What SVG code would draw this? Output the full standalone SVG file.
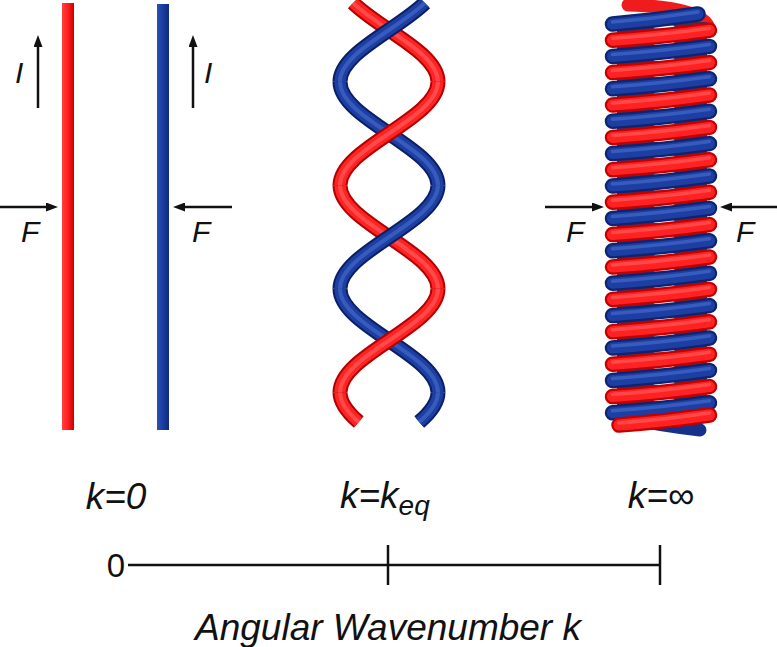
<svg xmlns="http://www.w3.org/2000/svg" xmlns:xlink="http://www.w3.org/1999/xlink" width="777" height="647" viewBox="0 0 777 647">
<style>
.txt{font-family:"Liberation Sans",Arial,sans-serif;font-style:italic;fill:#111}
.up{font-style:normal}
.ln{stroke:#111;stroke-width:2.5;fill:none}
.arr{stroke:#111;stroke-width:2.5;fill:none;marker-end:url(#ah)}
.ro{stroke:#b50000;stroke-width:15;fill:none}
.rc{stroke:#ff2323;stroke-width:11;fill:none}
.rh{stroke:#ff6b6b;stroke-width:4;fill:none;opacity:.55}
.bo{stroke:#0b1f66;stroke-width:15;fill:none}
.bc{stroke:#1d3fa3;stroke-width:11;fill:none}
.bh{stroke:#4d72d2;stroke-width:4;fill:none;opacity:.55}
.cro{stroke:#c20000;stroke-width:15.5;fill:none;stroke-linecap:round}
.crc{stroke:#ff2222;stroke-width:11;fill:none;stroke-linecap:round}
.crh{stroke:#ff6a6a;stroke-width:3.5;fill:none;stroke-linecap:round;opacity:.55}
.cbo{stroke:#0d2470;stroke-width:15.5;fill:none;stroke-linecap:round}
.cbc{stroke:#1d3fa3;stroke-width:11;fill:none;stroke-linecap:round}
.cbh{stroke:#4f74d4;stroke-width:3.5;fill:none;stroke-linecap:round;opacity:.55}
.backr{stroke:#ee1c1c;stroke-width:13;fill:none;stroke-linecap:round}
.backb{stroke:#16318a;stroke-width:13;fill:none;stroke-linecap:round}
</style>
<defs>
<marker id="ah" markerUnits="userSpaceOnUse" markerWidth="12" markerHeight="9" refX="6" refY="4.5" orient="auto">
<path d="M0,0 L12,4.5 L0,9 z" fill="#111"/>
</marker>
<linearGradient id="gRed" x1="0" x2="1" y1="0" y2="0">
<stop offset="0" stop-color="#ff4040"/><stop offset=".5" stop-color="#ff1e1e"/><stop offset="1" stop-color="#c80000"/>
</linearGradient>
<linearGradient id="gBlue" x1="0" x2="1" y1="0" y2="0">
<stop offset="0" stop-color="#2c52b8"/><stop offset=".5" stop-color="#1b3c9f"/><stop offset="1" stop-color="#0f2a7c"/>
</linearGradient>
<path id="hr0" d="M353.17,2.95 C379.9,29.36 438,52.8 438,81.75"/>
<path id="hr1" d="M438,81.75 C438,119.35 340,147.65 340,185.25"/>
<path id="hr2" d="M340,185.25 C340,222.85 438,251.15 438,288.75"/>
<path id="hr3" d="M438,288.75 C438,326.35 340,354.65 340,392.25"/>
<path id="hr4" d="M340,392.25 C340,402.78 347.68,412.58 358.75,422.06"/>
<path id="hb0" d="M424.83,2.95 C398.1,29.36 340,52.8 340,81.75"/>
<path id="hb1" d="M340,81.75 C340,119.35 438,147.65 438,185.25"/>
<path id="hb2" d="M438,185.25 C438,222.85 340,251.15 340,288.75"/>
<path id="hb3" d="M340,288.75 C340,326.35 438,354.65 438,392.25"/>
<path id="hb4" d="M438,392.25 C438,402.78 430.32,412.58 419.25,422.06"/>
<path id="fb" d="M612.5,5 Q662,1.5 709.5,-5"/>
<g id="bandR"><use href="#fb" class="cro"/><use href="#fb" class="crc"/><use href="#fb" y="-2" class="crh"/></g>
<g id="bandB"><use href="#fb" class="cbo"/><use href="#fb" class="cbc"/><use href="#fb" y="-2" class="cbh"/></g>
</defs>
<rect width="777" height="647" fill="#ffffff"/>

<g id="straight-wires">
<rect id="wire-red" x="62" y="3" width="12" height="427" fill="url(#gRed)"/>
<rect id="wire-blue" x="157" y="4" width="12" height="426" fill="url(#gBlue)"/>
</g>

<g id="twisted-helix">
<g id="helix-back">
<use href="#hr0" class="ro"/><use href="#hr0" class="rc"/><use href="#hr0" class="rh"/>
<use href="#hb1" class="bo"/><use href="#hb1" class="bc"/><use href="#hb1" class="bh"/>
<use href="#hr2" class="ro"/><use href="#hr2" class="rc"/><use href="#hr2" class="rh"/>
<use href="#hb3" class="bo"/><use href="#hb3" class="bc"/><use href="#hb3" class="bh"/>
<use href="#hr4" class="ro"/><use href="#hr4" class="rc"/><use href="#hr4" class="rh"/>
</g>
<g id="helix-front">
<use href="#hb0" class="bo"/><use href="#hb0" class="bc"/><use href="#hb0" class="bh"/>
<use href="#hr1" class="ro"/><use href="#hr1" class="rc"/><use href="#hr1" class="rh"/>
<use href="#hb2" class="bo"/><use href="#hb2" class="bc"/><use href="#hb2" class="bh"/>
<use href="#hr3" class="ro"/><use href="#hr3" class="rc"/><use href="#hr3" class="rh"/>
<use href="#hb4" class="bo"/><use href="#hb4" class="bc"/><use href="#hb4" class="bh"/>
</g>
</g>

<g id="coil">
<g id="coil-back">
<path class="backr" d="M709,28 Q702,7 628,5"/>
<path class="backb" d="M700,430 Q662,426 626,418"/>
<rect x="617" y="22" width="90" height="396" fill="#5a2448"/>
<path d="M655,27.1h18M655,43.3h18M655,59.5h18M655,75.7h18M655,91.9h18M655,108.1h18M655,124.3h18M655,140.5h18M655,156.7h18M655,172.9h18M655,189.1h18M655,205.3h18M655,221.5h18M655,237.7h18M655,253.9h18M655,270.1h18M655,286.3h18M655,302.5h18M655,318.7h18M655,334.9h18M655,351.1h18M655,367.3h18M655,383.5h18M655,399.7h18M655,414h18" stroke="#ffffff" stroke-width="3" stroke-linecap="round" fill="none"/>
</g>
<g id="coil-front">
<g id="top-blue">
<path class="cbo" d="M612.5,24 Q655,20.5 698,14"/><path class="cbc" d="M612.5,24 Q655,20.5 698,14"/><path class="cbh" d="M612.5,22 Q655,18.5 698,12"/>
</g>
<use href="#bandR" y="35.2"/><use href="#bandB" y="51.4"/><use href="#bandR" y="67.6"/><use href="#bandB" y="83.8"/>
<use href="#bandR" y="100"/><use href="#bandB" y="116.2"/><use href="#bandR" y="132.4"/><use href="#bandB" y="148.6"/>
<use href="#bandR" y="164.8"/><use href="#bandB" y="181"/><use href="#bandR" y="197.2"/><use href="#bandB" y="213.4"/>
<use href="#bandR" y="229.6"/><use href="#bandB" y="245.8"/><use href="#bandR" y="262"/><use href="#bandB" y="278.2"/>
<use href="#bandR" y="294.4"/><use href="#bandB" y="310.6"/><use href="#bandR" y="326.8"/><use href="#bandB" y="343"/>
<use href="#bandR" y="359.2"/><use href="#bandB" y="375.4"/><use href="#bandR" y="391.6"/><use href="#bandB" y="407.8"/>
<g id="bottom-red">
<path class="cro" d="M619,425 Q665,421.5 709.5,415"/><path class="crc" d="M619,425 Q665,421.5 709.5,415"/><path class="crh" d="M619,423 Q665,419.5 709.5,413"/>
</g>
</g>
</g>

<g id="connectors">
<line class="arr" x1="38" y1="108" x2="38" y2="41"/>
<line class="arr" x1="193" y1="108" x2="193" y2="41"/>
<line class="arr" x1="0" y1="207" x2="52" y2="207"/>
<line class="arr" x1="232" y1="207" x2="179" y2="207"/>
<line class="arr" x1="545" y1="207" x2="598" y2="207"/>
<line class="arr" x1="777" y1="207" x2="726" y2="207"/>
</g>

<g id="labels">
<text class="txt" x="15" y="83" font-size="30">I</text>
<text class="txt" x="204" y="83" font-size="30">I</text>
<text class="txt" x="21" y="242" font-size="30">F</text>
<text class="txt" x="192" y="242" font-size="30">F</text>
<text class="txt" x="566" y="242" font-size="30">F</text>
<text class="txt" x="736" y="242" font-size="30">F</text>
</g>

<g id="axis">
<line class="ln" x1="128" y1="565" x2="660" y2="565"/>
<line class="ln" x1="388" y1="545" x2="388" y2="585"/>
<line class="ln" x1="660" y1="545" x2="660" y2="585"/>
<text class="txt up" x="116" y="577" font-size="33" text-anchor="middle">0</text>
<text class="txt" x="116" y="509" font-size="37" text-anchor="middle">k=0</text>
<text class="txt" x="340" y="508" font-size="37">k=k<tspan font-size="28" dy="7">eq</tspan></text>
<text class="txt" x="661" y="508" font-size="37" text-anchor="middle">k=∞</text>
<text class="txt" x="388" y="640" font-size="37" text-anchor="middle">Angular Wavenumber k</text>
</g>
</svg>
